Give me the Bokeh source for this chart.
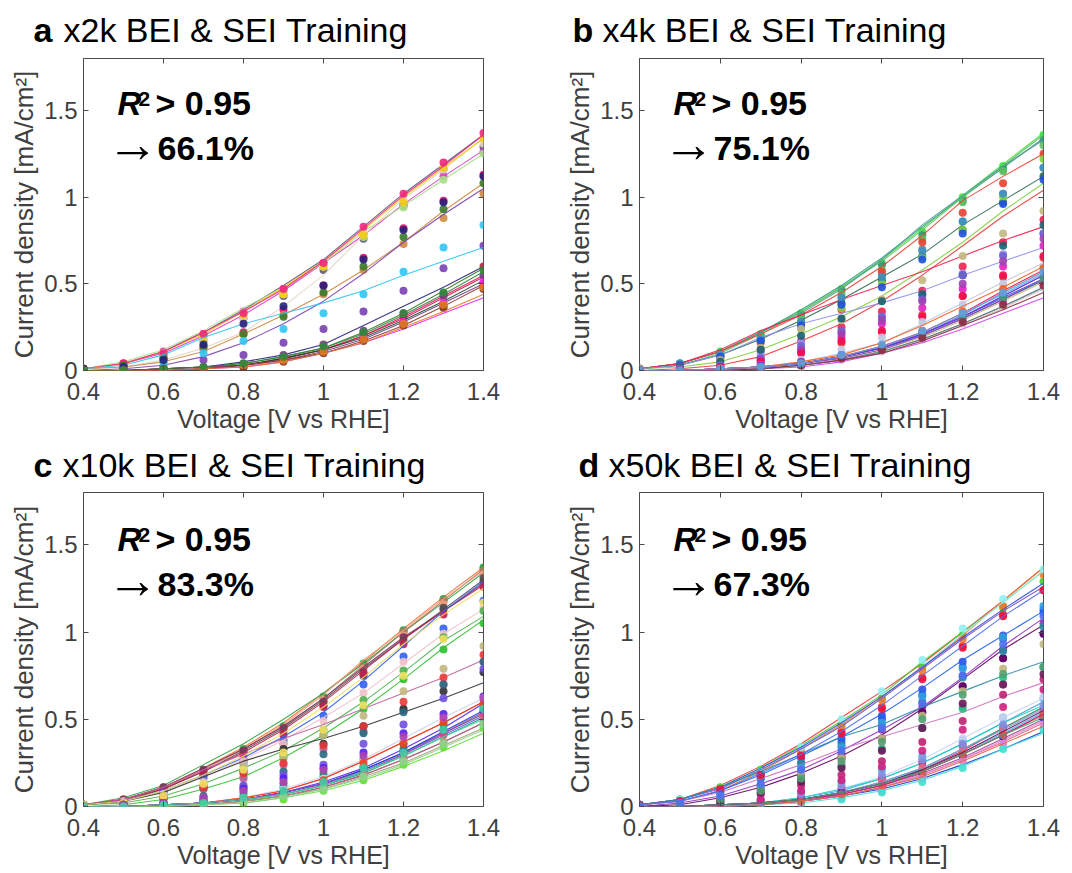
from bokeh.plotting import figure
from bokeh.layouts import column, row
from bokeh.models import Label, FixedTicker, CustomJSTickFormatter, LinearAxis, Range1d
from bokeh.core.properties import value
from bokeh.embed import file_html
from bokeh.resources import INLINE

# ---------------- data ----------------
volts = [0.4, 0.5, 0.6, 0.7, 0.8, 0.9, 1.0, 1.1, 1.2, 1.3, 1.4]
x_ticks = [0.4, 0.6, 0.8, 1.0, 1.2, 1.4]
y_ticks = [0.0, 0.5, 1.0, 1.5]

panel_letters = ["a", "b", "c", "d"]
panel_titles = ["x2k BEI & SEI Training", "x4k BEI & SEI Training",
                "x10k BEI & SEI Training", "x50k BEI & SEI Training"]
panel_pcts = ["66.1%", "75.1%", "83.3%", "67.3%"]

a_colors = ["#5b5b7b", "#d83cbf", "#a8e08a", "#e4d6c0", "#f0cc10", "#e8106a", "#f0287c",
            "#d08a40", "#3a7a2a", "#7a40b0", "#30c4f4", "#28207a", "#c02040", "#1a4a2a",
            "#7a3a8a", "#f020f0", "#8a3a2a", "#e07a20", "#2e8a3a"]
a_measured = [
    [0.01, 0.04, 0.11, 0.22, 0.35, 0.49, 0.64, 0.83, 1.02, 1.19, 1.36],
    [0.01, 0.04, 0.10, 0.20, 0.32, 0.46, 0.62, 0.78, 0.96, 1.12, 1.27],
    [0.01, 0.05, 0.12, 0.23, 0.36, 0.48, 0.62, 0.80, 0.95, 1.10, 1.25],
    [0.01, 0.02, 0.06, 0.13, 0.22, 0.37, 0.55, 0.78, 0.99, 1.16, 1.34],
    [0.01, 0.04, 0.11, 0.21, 0.34, 0.48, 0.63, 0.81, 1.00, 1.17, 1.34],
    [0.00, 0.00, 0.01, 0.02, 0.03, 0.07, 0.12, 0.20, 0.31, 0.43, 0.55],
    [0.01, 0.04, 0.11, 0.22, 0.34, 0.47, 0.63, 0.82, 1.01, 1.18, 1.36],
    [0.01, 0.02, 0.05, 0.11, 0.21, 0.32, 0.44, 0.58, 0.74, 0.92, 1.08],
    [0.00, 0.00, 0.01, 0.02, 0.04, 0.08, 0.13, 0.22, 0.33, 0.46, 0.59],
    [0.00, 0.01, 0.03, 0.08, 0.16, 0.27, 0.40, 0.56, 0.74, 0.90, 1.05],
    [0.01, 0.03, 0.09, 0.19, 0.27, 0.33, 0.39, 0.46, 0.55, 0.63, 0.71],
    [0.00, 0.00, 0.01, 0.02, 0.05, 0.09, 0.15, 0.26, 0.37, 0.48, 0.60],
    [0.00, 0.00, 0.01, 0.02, 0.03, 0.07, 0.12, 0.20, 0.30, 0.42, 0.54],
    [0.00, 0.00, 0.00, 0.01, 0.03, 0.07, 0.12, 0.19, 0.29, 0.40, 0.52],
    [0.00, 0.00, 0.00, 0.01, 0.03, 0.06, 0.11, 0.18, 0.28, 0.39, 0.50],
    [0.00, 0.00, 0.00, 0.01, 0.02, 0.05, 0.10, 0.16, 0.24, 0.33, 0.42],
    [0.00, 0.00, 0.00, 0.01, 0.03, 0.06, 0.10, 0.17, 0.26, 0.37, 0.49],
    [0.00, 0.00, 0.00, 0.01, 0.02, 0.05, 0.10, 0.16, 0.25, 0.34, 0.44],
    [0.00, 0.00, 0.01, 0.02, 0.04, 0.08, 0.13, 0.21, 0.32, 0.44, 0.57],
]
a_predicted = [
    [0.01, 0.03, 0.09, 0.17, 0.30, 0.43, 0.58, 0.76, 0.95, 1.16, 1.29],
    [0.01, 0.04, 0.11, 0.21, 0.34, 0.47, 0.62, 0.79, 0.96, 1.12, 1.26],
    [0.01, 0.04, 0.10, 0.20, 0.33, 0.45, 0.60, 0.77, 0.94, 1.10, 1.25],
    [0.01, 0.03, 0.08, 0.17, 0.30, 0.44, 0.60, 0.80, 0.99, 1.16, 1.31],
    [0.01, 0.04, 0.10, 0.19, 0.32, 0.44, 0.60, 0.78, 0.97, 1.17, 1.34],
    [0.01, 0.04, 0.07, 0.13, 0.22, 0.35, 0.49, 0.65, 0.82, 0.98, 1.13],
    [0.01, 0.04, 0.10, 0.21, 0.33, 0.47, 0.62, 0.83, 1.02, 1.20, 1.37],
    [0.01, 0.02, 0.05, 0.12, 0.21, 0.32, 0.44, 0.58, 0.73, 0.88, 1.02],
    [0.01, 0.03, 0.07, 0.14, 0.21, 0.31, 0.45, 0.60, 0.77, 0.93, 1.08],
    [0.00, 0.01, 0.02, 0.06, 0.09, 0.16, 0.24, 0.34, 0.46, 0.59, 0.72],
    [0.00, 0.01, 0.04, 0.10, 0.17, 0.24, 0.33, 0.44, 0.57, 0.71, 0.84],
    [0.01, 0.02, 0.06, 0.15, 0.27, 0.37, 0.49, 0.64, 0.81, 0.97, 1.12],
    [0.00, 0.00, 0.01, 0.01, 0.03, 0.07, 0.12, 0.21, 0.31, 0.44, 0.60],
    [0.00, 0.00, 0.00, 0.01, 0.02, 0.06, 0.11, 0.18, 0.27, 0.37, 0.49],
    [0.00, 0.00, 0.01, 0.02, 0.04, 0.09, 0.15, 0.23, 0.33, 0.43, 0.55],
    [0.00, 0.00, 0.00, 0.01, 0.03, 0.07, 0.12, 0.19, 0.28, 0.39, 0.51],
    [0.00, 0.00, 0.00, 0.01, 0.02, 0.05, 0.10, 0.17, 0.26, 0.36, 0.47],
    [0.00, 0.00, 0.00, 0.01, 0.03, 0.06, 0.11, 0.18, 0.27, 0.38, 0.48],
    [0.00, 0.00, 0.01, 0.02, 0.04, 0.08, 0.14, 0.22, 0.33, 0.45, 0.58],
]

b_colors = ["#40e040", "#2a9a7a", "#60c060", "#5a9aa0", "#2a6a4a", "#e84030", "#80d040",
            "#e83838", "#f02050", "#9090f0", "#4090c0", "#2050e0", "#c0b880", "#1a6070",
            "#7060d0", "#e020c0", "#a040b0", "#f01050", "#c0c8e0", "#7030f0", "#f06020",
            "#d0c0c8", "#d040f0", "#3aa070", "#8a3040", "#60a0e0"]
b_measured = [
    [0.01, 0.04, 0.11, 0.22, 0.34, 0.48, 0.64, 0.82, 1.01, 1.19, 1.37],
    [0.01, 0.04, 0.11, 0.22, 0.35, 0.49, 0.65, 0.83, 1.00, 1.17, 1.34],
    [0.01, 0.03, 0.10, 0.21, 0.34, 0.48, 0.63, 0.81, 1.00, 1.18, 1.36],
    [0.01, 0.04, 0.11, 0.22, 0.33, 0.47, 0.64, 0.84, 1.01, 1.18, 1.33],
    [0.01, 0.03, 0.09, 0.18, 0.29, 0.41, 0.54, 0.67, 0.84, 0.98, 1.12],
    [0.01, 0.04, 0.11, 0.21, 0.32, 0.45, 0.60, 0.78, 0.98, 1.12, 1.25],
    [0.01, 0.02, 0.05, 0.12, 0.21, 0.31, 0.43, 0.58, 0.74, 0.92, 1.08],
    [0.00, 0.01, 0.03, 0.08, 0.17, 0.27, 0.40, 0.55, 0.72, 0.89, 1.04],
    [0.01, 0.04, 0.12, 0.23, 0.32, 0.41, 0.49, 0.57, 0.66, 0.75, 0.83],
    [0.01, 0.03, 0.09, 0.19, 0.27, 0.33, 0.39, 0.46, 0.55, 0.63, 0.71],
    [0.00, 0.00, 0.01, 0.02, 0.04, 0.08, 0.13, 0.21, 0.32, 0.45, 0.57],
    [0.00, 0.00, 0.01, 0.02, 0.04, 0.08, 0.13, 0.21, 0.31, 0.42, 0.53],
    [0.00, 0.00, 0.01, 0.02, 0.04, 0.07, 0.12, 0.19, 0.29, 0.40, 0.51],
    [0.00, 0.00, 0.01, 0.02, 0.04, 0.08, 0.13, 0.20, 0.30, 0.41, 0.52],
    [0.00, 0.00, 0.01, 0.02, 0.04, 0.08, 0.13, 0.21, 0.31, 0.43, 0.55],
    [0.00, 0.00, 0.00, 0.01, 0.03, 0.06, 0.11, 0.18, 0.27, 0.37, 0.48],
    [0.00, 0.00, 0.01, 0.02, 0.04, 0.07, 0.12, 0.20, 0.30, 0.41, 0.53],
    [0.00, 0.00, 0.01, 0.02, 0.04, 0.08, 0.14, 0.22, 0.33, 0.46, 0.58],
    [0.00, 0.00, 0.01, 0.02, 0.05, 0.10, 0.16, 0.27, 0.39, 0.51, 0.62],
    [0.00, 0.00, 0.01, 0.02, 0.04, 0.08, 0.13, 0.21, 0.31, 0.43, 0.55],
    [0.00, 0.00, 0.01, 0.02, 0.05, 0.09, 0.16, 0.26, 0.37, 0.48, 0.60],
    [0.00, 0.00, 0.00, 0.01, 0.03, 0.06, 0.11, 0.17, 0.26, 0.36, 0.47],
    [0.00, 0.00, 0.00, 0.01, 0.02, 0.05, 0.10, 0.16, 0.24, 0.33, 0.42],
    [0.00, 0.00, 0.00, 0.01, 0.03, 0.06, 0.11, 0.18, 0.27, 0.37, 0.48],
    [0.00, 0.00, 0.00, 0.01, 0.03, 0.06, 0.10, 0.17, 0.26, 0.35, 0.45],
    [0.00, 0.00, 0.01, 0.02, 0.04, 0.08, 0.14, 0.22, 0.33, 0.44, 0.56],
]
b_predicted = [
    [0.01, 0.04, 0.11, 0.21, 0.33, 0.47, 0.62, 0.80, 1.00, 1.18, 1.36],
    [0.01, 0.04, 0.10, 0.20, 0.32, 0.46, 0.61, 0.78, 0.98, 1.16, 1.33],
    [0.01, 0.03, 0.09, 0.19, 0.30, 0.44, 0.58, 0.76, 0.97, 1.15, 1.30],
    [0.01, 0.04, 0.09, 0.18, 0.28, 0.42, 0.55, 0.70, 0.86, 1.02, 1.17],
    [0.01, 0.03, 0.08, 0.17, 0.27, 0.39, 0.52, 0.66, 0.81, 0.97, 1.12],
    [0.01, 0.03, 0.08, 0.16, 0.25, 0.35, 0.57, 0.74, 0.91, 1.08, 1.25],
    [0.01, 0.03, 0.08, 0.17, 0.24, 0.36, 0.50, 0.65, 0.81, 1.00, 1.22],
    [0.00, 0.01, 0.03, 0.07, 0.11, 0.16, 0.22, 0.32, 0.43, 0.54, 0.65],
    [0.01, 0.03, 0.07, 0.12, 0.17, 0.25, 0.34, 0.46, 0.60, 0.74, 0.87],
    [0.00, 0.02, 0.05, 0.10, 0.16, 0.22, 0.31, 0.43, 0.56, 0.67, 0.79],
    [0.01, 0.04, 0.09, 0.18, 0.28, 0.42, 0.54, 0.69, 0.86, 1.02, 1.17],
    [0.01, 0.03, 0.08, 0.17, 0.26, 0.38, 0.48, 0.64, 0.79, 0.96, 1.10],
    [0.01, 0.02, 0.06, 0.13, 0.24, 0.29, 0.41, 0.52, 0.66, 0.79, 0.92],
    [0.00, 0.02, 0.05, 0.12, 0.20, 0.30, 0.40, 0.44, 0.55, 0.72, 0.84],
    [0.00, 0.01, 0.03, 0.07, 0.14, 0.23, 0.31, 0.41, 0.55, 0.66, 0.79],
    [0.00, 0.01, 0.02, 0.05, 0.11, 0.19, 0.27, 0.36, 0.47, 0.60, 0.72],
    [0.00, 0.01, 0.02, 0.06, 0.12, 0.21, 0.29, 0.40, 0.50, 0.63, 0.76],
    [0.00, 0.00, 0.02, 0.05, 0.10, 0.17, 0.23, 0.31, 0.43, 0.55, 0.66],
    [0.00, 0.00, 0.01, 0.03, 0.06, 0.12, 0.19, 0.28, 0.38, 0.50, 0.60],
    [0.00, 0.00, 0.01, 0.03, 0.05, 0.09, 0.14, 0.22, 0.31, 0.43, 0.54],
    [0.00, 0.00, 0.01, 0.02, 0.04, 0.08, 0.14, 0.23, 0.34, 0.47, 0.59],
    [0.00, 0.00, 0.00, 0.01, 0.02, 0.06, 0.11, 0.18, 0.27, 0.37, 0.48],
    [0.00, 0.00, 0.00, 0.01, 0.03, 0.07, 0.12, 0.19, 0.29, 0.40, 0.51],
    [0.00, 0.00, 0.01, 0.02, 0.04, 0.08, 0.13, 0.21, 0.31, 0.42, 0.53],
    [0.00, 0.00, 0.00, 0.01, 0.03, 0.07, 0.12, 0.19, 0.28, 0.38, 0.49],
    [0.00, 0.00, 0.01, 0.02, 0.04, 0.09, 0.15, 0.23, 0.33, 0.45, 0.57],
]

c_colors = ["#f07030", "#30a040", "#b07860", "#f0a080", "#803060", "#505050", "#c02050",
            "#3060f0", "#f0c0c8", "#30c030", "#50b050", "#c060a0", "#303030", "#c0b880",
            "#e83838", "#f0e060", "#2a6a80", "#7050e0", "#5020f0", "#20a070", "#1a7a6a",
            "#c8d0f0", "#f04020", "#2040f0", "#e05080", "#a0a070", "#60e030", "#90d090",
            "#b040b0", "#40d0a0"]
c_measured = [
    [0.01, 0.04, 0.11, 0.22, 0.34, 0.48, 0.65, 0.83, 1.02, 1.20, 1.37],
    [0.01, 0.05, 0.12, 0.24, 0.36, 0.50, 0.65, 0.82, 1.00, 1.17, 1.34],
    [0.01, 0.04, 0.10, 0.21, 0.33, 0.46, 0.62, 0.81, 1.00, 1.18, 1.36],
    [0.01, 0.04, 0.11, 0.21, 0.33, 0.47, 0.64, 0.84, 1.01, 1.19, 1.35],
    [0.01, 0.04, 0.11, 0.22, 0.33, 0.46, 0.62, 0.80, 0.97, 1.12, 1.28],
    [0.01, 0.03, 0.10, 0.20, 0.32, 0.45, 0.61, 0.79, 0.96, 1.13, 1.30],
    [0.01, 0.04, 0.10, 0.20, 0.31, 0.44, 0.60, 0.78, 0.96, 1.12, 1.27],
    [0.01, 0.03, 0.09, 0.18, 0.28, 0.40, 0.54, 0.72, 0.92, 1.12, 1.29],
    [0.01, 0.03, 0.08, 0.17, 0.27, 0.38, 0.51, 0.65, 0.82, 0.99, 1.13],
    [0.00, 0.01, 0.04, 0.10, 0.17, 0.28, 0.41, 0.56, 0.73, 0.91, 1.07],
    [0.01, 0.02, 0.06, 0.13, 0.22, 0.32, 0.45, 0.60, 0.77, 0.95, 1.09],
    [0.01, 0.04, 0.11, 0.21, 0.30, 0.39, 0.47, 0.56, 0.65, 0.74, 0.84],
    [0.01, 0.03, 0.08, 0.17, 0.26, 0.33, 0.39, 0.46, 0.54, 0.62, 0.71],
    [0.00, 0.00, 0.01, 0.02, 0.04, 0.08, 0.13, 0.21, 0.31, 0.43, 0.54],
    [0.00, 0.00, 0.01, 0.02, 0.05, 0.09, 0.16, 0.26, 0.37, 0.48, 0.60],
    [0.01, 0.03, 0.09, 0.18, 0.29, 0.42, 0.57, 0.74, 0.93, 1.10, 1.25],
    [0.00, 0.00, 0.01, 0.02, 0.04, 0.08, 0.13, 0.21, 0.31, 0.42, 0.53],
    [0.00, 0.00, 0.01, 0.02, 0.04, 0.07, 0.12, 0.20, 0.30, 0.41, 0.52],
    [0.00, 0.00, 0.01, 0.02, 0.04, 0.08, 0.14, 0.22, 0.33, 0.45, 0.59],
    [0.00, 0.00, 0.01, 0.02, 0.04, 0.07, 0.12, 0.19, 0.29, 0.40, 0.51],
    [0.00, 0.00, 0.00, 0.01, 0.03, 0.06, 0.11, 0.18, 0.27, 0.37, 0.48],
    [0.00, 0.00, 0.01, 0.02, 0.05, 0.10, 0.17, 0.27, 0.39, 0.51, 0.62],
    [0.00, 0.00, 0.01, 0.02, 0.05, 0.09, 0.16, 0.26, 0.37, 0.48, 0.60],
    [0.00, 0.00, 0.01, 0.02, 0.04, 0.08, 0.13, 0.21, 0.31, 0.43, 0.55],
    [0.00, 0.00, 0.00, 0.01, 0.03, 0.06, 0.11, 0.18, 0.27, 0.37, 0.48],
    [0.00, 0.00, 0.00, 0.01, 0.03, 0.06, 0.10, 0.17, 0.25, 0.35, 0.45],
    [0.00, 0.00, 0.00, 0.01, 0.02, 0.05, 0.09, 0.15, 0.23, 0.32, 0.42],
    [0.00, 0.00, 0.00, 0.01, 0.02, 0.05, 0.10, 0.16, 0.24, 0.34, 0.44],
    [0.00, 0.00, 0.01, 0.02, 0.04, 0.08, 0.13, 0.20, 0.30, 0.42, 0.54],
    [0.00, 0.00, 0.01, 0.02, 0.04, 0.07, 0.12, 0.20, 0.29, 0.40, 0.50],
]
c_predicted = [
    [0.01, 0.04, 0.10, 0.20, 0.32, 0.45, 0.62, 0.80, 1.00, 1.18, 1.36],
    [0.01, 0.04, 0.11, 0.21, 0.33, 0.46, 0.63, 0.82, 1.01, 1.19, 1.37],
    [0.01, 0.03, 0.09, 0.18, 0.30, 0.43, 0.60, 0.80, 1.00, 1.18, 1.35],
    [0.01, 0.04, 0.10, 0.19, 0.31, 0.45, 0.61, 0.79, 0.98, 1.16, 1.33],
    [0.01, 0.04, 0.11, 0.21, 0.32, 0.45, 0.60, 0.77, 0.97, 1.13, 1.29],
    [0.01, 0.03, 0.09, 0.18, 0.26, 0.36, 0.58, 0.75, 0.95, 1.14, 1.31],
    [0.01, 0.03, 0.09, 0.18, 0.28, 0.41, 0.57, 0.76, 0.93, 1.10, 1.26],
    [0.01, 0.03, 0.08, 0.16, 0.25, 0.38, 0.52, 0.70, 0.86, 1.02, 1.18],
    [0.01, 0.03, 0.07, 0.14, 0.26, 0.36, 0.49, 0.65, 0.83, 0.99, 1.14],
    [0.00, 0.01, 0.04, 0.10, 0.17, 0.28, 0.41, 0.56, 0.73, 0.90, 1.05],
    [0.01, 0.02, 0.06, 0.12, 0.21, 0.30, 0.44, 0.61, 0.78, 0.97, 1.12],
    [0.00, 0.02, 0.05, 0.10, 0.16, 0.24, 0.33, 0.43, 0.55, 0.70, 0.83],
    [0.01, 0.02, 0.05, 0.11, 0.20, 0.33, 0.36, 0.46, 0.56, 0.66, 0.77],
    [0.01, 0.02, 0.05, 0.12, 0.23, 0.29, 0.41, 0.52, 0.66, 0.79, 0.92],
    [0.00, 0.02, 0.05, 0.11, 0.19, 0.25, 0.35, 0.46, 0.60, 0.74, 0.87],
    [0.01, 0.02, 0.06, 0.13, 0.21, 0.31, 0.44, 0.58, 0.75, 0.96, 1.17],
    [0.00, 0.01, 0.02, 0.06, 0.11, 0.20, 0.30, 0.42, 0.54, 0.70, 0.83],
    [0.00, 0.01, 0.02, 0.05, 0.12, 0.18, 0.24, 0.36, 0.47, 0.62, 0.79],
    [0.00, 0.01, 0.02, 0.04, 0.10, 0.16, 0.22, 0.31, 0.42, 0.53, 0.63],
    [0.00, 0.00, 0.01, 0.03, 0.08, 0.13, 0.19, 0.27, 0.36, 0.47, 0.57],
    [0.00, 0.00, 0.01, 0.03, 0.06, 0.11, 0.17, 0.23, 0.33, 0.44, 0.55],
    [0.00, 0.00, 0.01, 0.02, 0.05, 0.10, 0.16, 0.26, 0.38, 0.50, 0.62],
    [0.00, 0.00, 0.01, 0.02, 0.04, 0.08, 0.15, 0.25, 0.36, 0.48, 0.59],
    [0.00, 0.00, 0.01, 0.02, 0.04, 0.08, 0.13, 0.21, 0.31, 0.42, 0.54],
    [0.00, 0.00, 0.00, 0.01, 0.03, 0.07, 0.12, 0.19, 0.29, 0.41, 0.52],
    [0.00, 0.00, 0.00, 0.01, 0.03, 0.06, 0.11, 0.18, 0.27, 0.37, 0.48],
    [0.00, 0.00, 0.00, 0.01, 0.02, 0.04, 0.09, 0.15, 0.24, 0.34, 0.45],
    [0.00, 0.00, 0.00, 0.01, 0.03, 0.06, 0.10, 0.17, 0.26, 0.36, 0.47],
    [0.00, 0.01, 0.02, 0.05, 0.09, 0.14, 0.21, 0.29, 0.40, 0.51, 0.62],
    [0.00, 0.00, 0.01, 0.02, 0.05, 0.09, 0.14, 0.22, 0.31, 0.44, 0.56],
]

d_colors = ["#f03030", "#40d030", "#f07830", "#90f0f0", "#3050e0", "#8050b0", "#2060f0",
            "#9030c0", "#600060", "#2a8aa0", "#d070c0", "#f01040", "#c0b880", "#30a0e0",
            "#20c080", "#c02070", "#40b0e0", "#c8d0f0", "#20d0c0", "#a04090", "#f06080",
            "#1030d0", "#e080d0", "#40e0d0", "#e06040", "#8090e0", "#d02080", "#6a1a5a",
            "#50a070", "#5070f0"]
d_measured = [
    [0.01, 0.04, 0.12, 0.23, 0.36, 0.51, 0.66, 0.82, 1.00, 1.18, 1.37],
    [0.01, 0.04, 0.11, 0.22, 0.35, 0.49, 0.64, 0.83, 1.00, 1.17, 1.35],
    [0.01, 0.03, 0.09, 0.20, 0.33, 0.47, 0.63, 0.80, 0.98, 1.18, 1.37],
    [0.01, 0.04, 0.11, 0.21, 0.33, 0.46, 0.62, 0.80, 0.99, 1.17, 1.35],
    [0.01, 0.04, 0.11, 0.22, 0.34, 0.48, 0.63, 0.80, 0.97, 1.13, 1.28],
    [0.01, 0.04, 0.10, 0.21, 0.33, 0.46, 0.62, 0.79, 0.96, 1.12, 1.26],
    [0.01, 0.03, 0.09, 0.18, 0.29, 0.40, 0.53, 0.68, 0.84, 0.98, 1.12],
    [0.00, 0.02, 0.06, 0.13, 0.21, 0.32, 0.44, 0.57, 0.74, 0.92, 1.08],
    [0.00, 0.01, 0.05, 0.11, 0.19, 0.29, 0.41, 0.56, 0.73, 0.90, 1.04],
    [0.01, 0.04, 0.11, 0.20, 0.30, 0.40, 0.47, 0.57, 0.66, 0.75, 0.83],
    [0.01, 0.03, 0.08, 0.16, 0.24, 0.33, 0.40, 0.47, 0.54, 0.63, 0.71],
    [0.00, 0.00, 0.01, 0.02, 0.04, 0.08, 0.13, 0.21, 0.32, 0.45, 0.57],
    [0.00, 0.00, 0.01, 0.02, 0.04, 0.08, 0.13, 0.20, 0.30, 0.41, 0.52],
    [0.00, 0.00, 0.01, 0.02, 0.05, 0.09, 0.16, 0.25, 0.36, 0.48, 0.60],
    [0.00, 0.00, 0.01, 0.02, 0.04, 0.08, 0.14, 0.22, 0.33, 0.45, 0.57],
    [0.00, 0.00, 0.01, 0.02, 0.04, 0.07, 0.12, 0.20, 0.30, 0.41, 0.53],
    [0.00, 0.00, 0.01, 0.02, 0.04, 0.08, 0.13, 0.21, 0.31, 0.42, 0.54],
    [0.00, 0.00, 0.01, 0.02, 0.05, 0.10, 0.17, 0.27, 0.39, 0.51, 0.62],
    [0.00, 0.00, 0.01, 0.02, 0.05, 0.10, 0.16, 0.25, 0.36, 0.48, 0.58],
    [0.00, 0.00, 0.00, 0.01, 0.03, 0.07, 0.12, 0.19, 0.28, 0.39, 0.50],
    [0.00, 0.00, 0.00, 0.01, 0.03, 0.06, 0.11, 0.18, 0.27, 0.37, 0.48],
    [0.00, 0.00, 0.00, 0.01, 0.03, 0.06, 0.10, 0.16, 0.24, 0.33, 0.43],
    [0.00, 0.00, 0.00, 0.01, 0.03, 0.06, 0.11, 0.18, 0.27, 0.38, 0.49],
    [0.00, 0.00, 0.00, 0.01, 0.02, 0.05, 0.09, 0.15, 0.23, 0.33, 0.42],
    [0.00, 0.00, 0.00, 0.01, 0.03, 0.06, 0.11, 0.17, 0.26, 0.36, 0.46],
    [0.00, 0.00, 0.01, 0.02, 0.04, 0.08, 0.14, 0.22, 0.33, 0.44, 0.56],
    [0.00, 0.00, 0.01, 0.02, 0.04, 0.07, 0.12, 0.20, 0.30, 0.41, 0.53],
    [0.00, 0.00, 0.01, 0.02, 0.04, 0.08, 0.13, 0.21, 0.31, 0.43, 0.55],
    [0.00, 0.00, 0.01, 0.02, 0.04, 0.08, 0.13, 0.20, 0.30, 0.41, 0.51],
    [0.01, 0.03, 0.09, 0.19, 0.30, 0.43, 0.58, 0.75, 0.92, 1.09, 1.24],
]
d_predicted = [
    [0.01, 0.04, 0.10, 0.18, 0.30, 0.43, 0.57, 0.74, 0.92, 1.10, 1.24],
    [0.01, 0.04, 0.11, 0.21, 0.34, 0.47, 0.62, 0.80, 0.98, 1.14, 1.29],
    [0.01, 0.03, 0.09, 0.19, 0.32, 0.46, 0.61, 0.78, 0.96, 1.15, 1.33],
    [0.01, 0.04, 0.10, 0.20, 0.34, 0.50, 0.66, 0.84, 1.02, 1.19, 1.36],
    [0.01, 0.03, 0.09, 0.18, 0.28, 0.39, 0.52, 0.67, 0.83, 0.98, 1.13],
    [0.00, 0.02, 0.05, 0.11, 0.19, 0.28, 0.39, 0.54, 0.69, 0.85, 0.99],
    [0.01, 0.03, 0.08, 0.16, 0.25, 0.37, 0.50, 0.64, 0.80, 0.96, 1.11],
    [0.00, 0.02, 0.05, 0.12, 0.20, 0.30, 0.44, 0.57, 0.75, 0.90, 1.05],
    [0.00, 0.01, 0.04, 0.10, 0.18, 0.28, 0.39, 0.54, 0.69, 0.85, 0.99],
    [0.01, 0.03, 0.08, 0.16, 0.25, 0.35, 0.47, 0.60, 0.74, 0.89, 1.03],
    [0.00, 0.02, 0.05, 0.11, 0.16, 0.24, 0.33, 0.45, 0.57, 0.70, 0.80],
    [0.01, 0.03, 0.10, 0.18, 0.29, 0.42, 0.56, 0.73, 0.91, 1.09, 1.24],
    [0.00, 0.02, 0.05, 0.11, 0.19, 0.28, 0.39, 0.52, 0.66, 0.79, 0.93],
    [0.00, 0.02, 0.06, 0.12, 0.22, 0.34, 0.48, 0.63, 0.79, 0.97, 1.15],
    [0.00, 0.01, 0.03, 0.08, 0.15, 0.23, 0.33, 0.45, 0.56, 0.74, 0.80],
    [0.00, 0.01, 0.03, 0.07, 0.12, 0.18, 0.26, 0.37, 0.49, 0.64, 0.73],
    [0.00, 0.00, 0.02, 0.04, 0.08, 0.14, 0.21, 0.29, 0.38, 0.51, 0.62],
    [0.00, 0.00, 0.01, 0.03, 0.05, 0.11, 0.17, 0.27, 0.39, 0.51, 0.63],
    [0.00, 0.00, 0.01, 0.02, 0.04, 0.07, 0.13, 0.20, 0.29, 0.40, 0.51],
    [0.00, 0.00, 0.01, 0.03, 0.06, 0.10, 0.16, 0.25, 0.35, 0.45, 0.55],
    [0.00, 0.00, 0.01, 0.02, 0.05, 0.09, 0.14, 0.22, 0.32, 0.43, 0.53],
    [0.00, 0.00, 0.01, 0.02, 0.04, 0.08, 0.12, 0.19, 0.29, 0.40, 0.51],
    [0.00, 0.00, 0.00, 0.01, 0.02, 0.05, 0.09, 0.16, 0.26, 0.36, 0.47],
    [0.00, 0.00, 0.00, 0.01, 0.02, 0.04, 0.08, 0.14, 0.22, 0.33, 0.44],
    [0.00, 0.00, 0.01, 0.02, 0.03, 0.07, 0.12, 0.20, 0.30, 0.41, 0.52],
    [0.00, 0.00, 0.01, 0.03, 0.07, 0.12, 0.18, 0.27, 0.36, 0.47, 0.58],
    [0.00, 0.00, 0.01, 0.04, 0.09, 0.15, 0.23, 0.32, 0.44, 0.57, 0.67],
    [0.00, 0.01, 0.03, 0.08, 0.14, 0.22, 0.32, 0.45, 0.59, 0.70, 0.76],
    [0.00, 0.01, 0.04, 0.09, 0.16, 0.26, 0.37, 0.50, 0.64, 0.76, 0.80],
    [0.00, 0.02, 0.06, 0.13, 0.21, 0.32, 0.45, 0.59, 0.75, 0.93, 1.09],
]

# ---------------- styling ----------------
FONT = "Liberation Sans"
AX_COLOR = "#4a4a4a"
BASE_SHIFT = 0.37   # Bokeh draws "alphabetic" text this many em lower than asked
fmt = CustomJSTickFormatter(code="return String(Math.round(tick * 10) / 10);")
blank = CustomJSTickFormatter(code="return '';")


def make_header(letter, title, w, h, letter_x, title_x, baseline_y):
    p = figure(width=w, height=h, output_backend="svg", toolbar_location=None, title=None,
               x_range=Range1d(0, w), y_range=Range1d(0, h),
               min_border_left=0, min_border_right=0, min_border_top=0, min_border_bottom=0,
               background_fill_color="white", border_fill_color="white")
    p.axis.visible = False
    p.grid.visible = False
    p.outline_line_color = None
    yb = h - (baseline_y - BASE_SHIFT * 34)
    p.text(x=[letter_x], y=[yb], text=[letter], text_font=value(FONT), text_font_size="34px",
           text_font_style="bold", text_color="black", text_baseline="alphabetic",
           text_align="left")
    p.text(x=[title_x], y=[yb], text=[title], text_font=value(FONT), text_font_size="34px",
           text_font_style="normal", text_color="black", text_baseline="alphabetic",
           text_align="left")
    return p


def add_text(p, txt, sx, base_from_bottom, size, style, font=FONT):
    p.add_layout(Label(x=sx, y=base_from_bottom + BASE_SHIFT * size, x_units="screen",
                       y_units="screen", text=txt, text_font=font, text_font_size=f"{size}px",
                       text_font_style=style, text_color="black", text_baseline="alphabetic"))


def make_panel(pct, colors, measured, predicted, w, h, left, right, top, bottom):
    p = figure(width=w, height=h, output_backend="svg", toolbar_location=None, title=None,
               x_range=Range1d(0.4, 1.4), y_range=Range1d(0.0, 1.8),
               min_border_left=left, min_border_right=right,
               min_border_top=top, min_border_bottom=bottom,
               background_fill_color="white", border_fill_color="white")
    p.grid.visible = False
    p.outline_line_color = AX_COLOR
    p.outline_line_width = 1
    p.outline_line_alpha = 1.0

    for ax, ticks in ((p.xaxis[0], x_ticks), (p.yaxis[0], y_ticks)):
        ax.ticker = FixedTicker(ticks=ticks, minor_ticks=[])
        ax.formatter = fmt
        ax.major_tick_in = 5
        ax.major_tick_out = 0
        ax.minor_tick_line_color = None
        ax.major_tick_line_color = AX_COLOR
        ax.axis_line_color = None
        ax.major_label_text_font = FONT
        ax.major_label_text_font_size = "24px"
        ax.major_label_text_color = "#404040"
        ax.axis_label_text_font = FONT
        ax.axis_label_text_font_style = "normal"
        ax.axis_label_text_color = "#404040"
    p.xaxis.axis_label = "Voltage [V vs RHE]"
    p.yaxis.axis_label = "Current density [mA/cm²]"
    p.xaxis.axis_label_text_font_size = "25px"
    p.yaxis.axis_label_text_font_size = "26px"
    p.xaxis.major_label_standoff = 12
    p.xaxis.axis_label_standoff = 2
    p.yaxis.major_label_standoff = 6
    p.yaxis.axis_label_standoff = 2

    for loc, ticks in (("right", y_ticks), ("above", x_ticks)):
        ax = LinearAxis(ticker=FixedTicker(ticks=ticks, minor_ticks=[]), formatter=blank,
                        major_tick_in=5, major_tick_out=0, axis_line_color=None,
                        major_tick_line_color=AX_COLOR, minor_tick_line_color=None,
                        major_label_text_font_size="1px", major_label_standoff=0)
        p.add_layout(ax, loc)

    for col, meas, pred in zip(colors, measured, predicted):
        p.line(volts, meas, line_color=col, line_width=1.1, line_alpha=0.9)
        p.scatter(volts, pred, size=8, fill_color=col, line_color=None, fill_alpha=0.9)

    # R^2 annotation (baselines measured from the frame bottom)
    add_text(p, "R", 34, 255, 33, "bold italic")
    add_text(p, "2", 55, 264, 21, "bold")
    add_text(p, "> 0.95", 72, 255, 34, "bold")
    add_text(p, "→", 23, 207.5, 52, "normal")
    add_text(p, pct, 74, 210, 34, "bold")
    return p


ha = make_header(panel_letters[0], panel_titles[0], 536, 50, 33, 63, 42)
hb = make_header(panel_letters[1], panel_titles[1], 536, 50, 36, 66, 42)
hc = make_header(panel_letters[2], panel_titles[2], 536, 50, 33, 62, 41)
hd = make_header(panel_letters[3], panel_titles[3], 536, 50, 42, 72, 41)

pa = make_panel(panel_pcts[0], a_colors, a_measured, a_predicted, 536, 386, 83, 53, 6, 66)
pb = make_panel(panel_pcts[1], b_colors, b_measured, b_predicted, 536, 386, 103, 29, 8, 64)
pc = make_panel(panel_pcts[2], c_colors, c_measured, c_predicted, 536, 387, 83, 53, 6, 67)
pd_ = make_panel(panel_pcts[3], d_colors, d_measured, d_predicted, 536, 387, 103, 29, 6, 67)

layout = column(row(ha, hb), row(pa, pb), row(hc, hd), row(pc, pd_))
open("out.html", "w").write(file_html(layout, INLINE))
